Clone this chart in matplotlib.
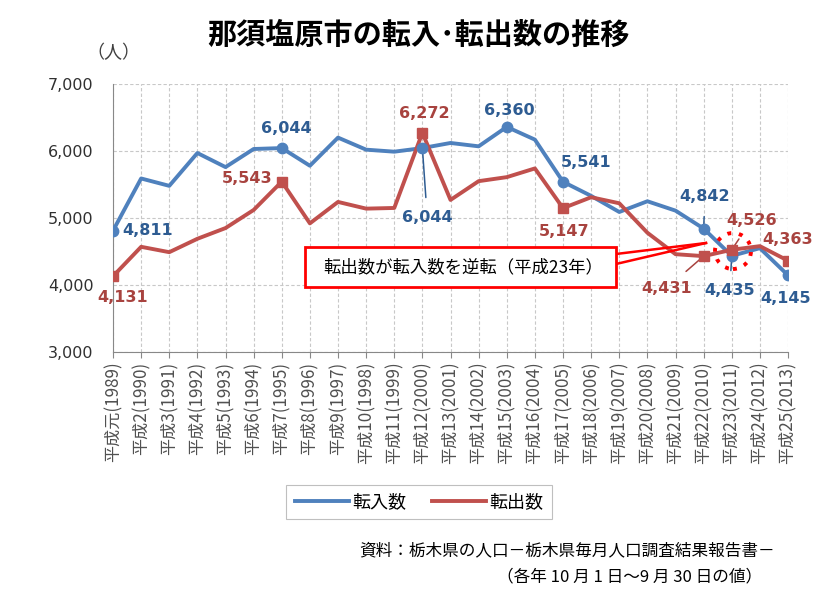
import matplotlib
matplotlib.use("Agg")
import matplotlib.pyplot as plt
from matplotlib.patches import Ellipse, Rectangle

plt.rcParams["font.family"] = ["Noto Sans CJK JP", "DejaVu Sans"]

# ── data ────────────────────────────────────────────────────────────────────
years = ["平成元(1989)", "平成2(1990)", "平成3(1991)", "平成4(1992)", "平成5(1993)",
         "平成6(1994)", "平成7(1995)", "平成8(1996)", "平成9(1997)", "平成10(1998)",
         "平成11(1999)", "平成12(2000)", "平成13(2001)", "平成14(2002)", "平成15(2003)",
         "平成16(2004)", "平成17(2005)", "平成18(2006)", "平成19(2007)", "平成20(2008)",
         "平成21(2009)", "平成22(2010)", "平成23(2011)", "平成24(2012)", "平成25(2013)"]
tennyu = [4811, 5590, 5480, 5970, 5760, 6030, 6044, 5780, 6200, 6020,
          5990, 6044, 6120, 6070, 6360, 6170, 5541, 5330, 5090, 5250,
          5110, 4842, 4435, 4550, 4145]
tenshutsu = [4131, 4570, 4490, 4690, 4850, 5120, 5543, 4920, 5240, 5140,
             5150, 6272, 5270, 5550, 5610, 5740, 5147, 5310, 5220, 4780,
             4460, 4431, 4526, 4580, 4363]
# indices with markers + data labels
mark_in = [0, 6, 11, 14, 16, 21, 22, 24]
mark_out = [0, 6, 11, 16, 21, 22, 24]

BLUE, RED = "#4F81BD", "#C0504D"
BLUE_TXT, RED_TXT = "#2E5C92", "#A8433F"
W, H = 828, 595

def fx(px):
    return px / W

def fy(py):
    return 1 - py / H

fig = plt.figure(figsize=(8.28, 5.95), dpi=100)
ax = fig.add_axes([0.1365, 0.4084, 0.8152, 0.4504])

x = list(range(len(years)))
ax.plot(x, tennyu, color=BLUE, lw=2.8, label="転入数", zorder=3, solid_joinstyle="round")
ax.plot(x, tenshutsu, color=RED, lw=2.8, label="転出数", zorder=3, solid_joinstyle="round")
ax.plot(mark_in, [tennyu[i] for i in mark_in], "o", color=BLUE, ms=7.5, zorder=4)
ax.plot(mark_out, [tenshutsu[i] for i in mark_out], "s", color=RED, ms=7.5, zorder=4)

yt = [3000, 4000, 5000, 6000, 7000]
ax.set_xlim(0, len(years) - 1)
ax.set_ylim(3000, 7000)
ax.set_yticks(yt)
ax.set_yticklabels([f"{v:,}" for v in yt], fontsize=11.5, family="DejaVu Sans", color="#303030")
ax.set_xticks(x)
ax.set_xticklabels(years, rotation=90, fontsize=12.3, color="#505050")
ax.tick_params(axis="y", length=0, pad=14)
ax.tick_params(axis="x", length=4, color="#888888", pad=3)
ax.grid(True, color="#C8C8C8", ls=(0, (3, 2)), lw=0.8)
for s in ["top", "right"]:
    ax.spines[s].set_visible(False)
ax.spines["left"].set_color("#888888")
ax.spines["bottom"].set_color("#888888")

# data labels, offsets in points from the marker
def lab(i, vals, dx, dy, color, ha="center", leader=False):
    ax.annotate(f"{vals[i]:,}", (i, vals[i]), xytext=(dx, dy), textcoords="offset points",
                ha=ha, va="center", color=color, fontsize=11.5, fontweight="bold",
                family="DejaVu Sans",
                arrowprops=dict(arrowstyle="-", color=color, lw=1.1, shrinkA=7, shrinkB=3)
                if leader else None)

lab(0, tennyu, 7, 0, BLUE_TXT, ha="left")
lab(6, tennyu, 3, 14, BLUE_TXT)
lab(11, tennyu, 3.5, -50, BLUE_TXT, leader=True)
lab(14, tennyu, 1.5, 12, BLUE_TXT)
lab(16, tennyu, 17, 14, BLUE_TXT)
lab(21, tennyu, 1, 23, BLUE_TXT, leader=True)
lab(22, tennyu, -1.5, -25, BLUE_TXT, leader=True)
lab(24, tennyu, -2, -17, BLUE_TXT)

lab(0, tenshutsu, 7, -15, RED_TXT)
lab(6, tenshutsu, -6.5, 2, RED_TXT, ha="right")
lab(11, tenshutsu, 1.5, 14, RED_TXT)
lab(16, tenshutsu, 0.7, -17, RED_TXT)
lab(21, tenshutsu, -26.5, -23, RED_TXT, leader=True)
lab(22, tenshutsu, 14, 21, RED_TXT, leader=True)
lab(24, tenshutsu, 0, 15, RED_TXT)

# dotted circle around the crossing in 2011
fig.patches.append(Ellipse((fx(733), fy(251)), 36 / W, 36 / H, transform=fig.transFigure,
                           fill=False, ec="#FF0000", lw=2.8, ls=(0, (1, 2.0)), zorder=6))

# callout box
fig.patches.append(Rectangle((fx(305), fy(287)), fx(311), 40 / H,
                             transform=fig.transFigure, fc="white", ec="#FF0000", lw=2, zorder=7))
fig.text(fx(463), fy(267), "転出数が転入数を逆転（平成23年）", ha="center", va="center",
         fontsize=12.5, zorder=8)
for yy in (254, 264):
    fig.add_artist(plt.Line2D([fx(616), fx(706)], [fy(yy), fy(243)],
                              transform=fig.transFigure, color="#FF0000", lw=1.8, zorder=7))

fig.text(fx(419), fy(35), "那須塩原市の転入･転出数の推移", ha="center", va="center",
         fontsize=21, fontweight="bold")
fig.text(fx(86), fy(53), "（人）", ha="left", va="center", fontsize=13, color="#404040")

leg = ax.legend(loc="center", bbox_to_anchor=(fx(419), fy(502)),
                bbox_transform=fig.transFigure, ncol=2, fontsize=13, frameon=True,
                fancybox=False, edgecolor="#B0B0B0", handlelength=3.0, handletextpad=0.2,
                columnspacing=1.4, borderpad=0.45)
leg.get_frame().set_linewidth(0.8)

fig.text(fx(775), fy(551), "資料：栃木県の人口－栃木県毎月人口調査結果報告書－",
         ha="right", va="center", fontsize=12)
fig.text(fx(762), fy(577), "（各年 10 月 1 日～9 月 30 日の値）",
         ha="right", va="center", fontsize=12)

fig.savefig("out.png", dpi=100)
